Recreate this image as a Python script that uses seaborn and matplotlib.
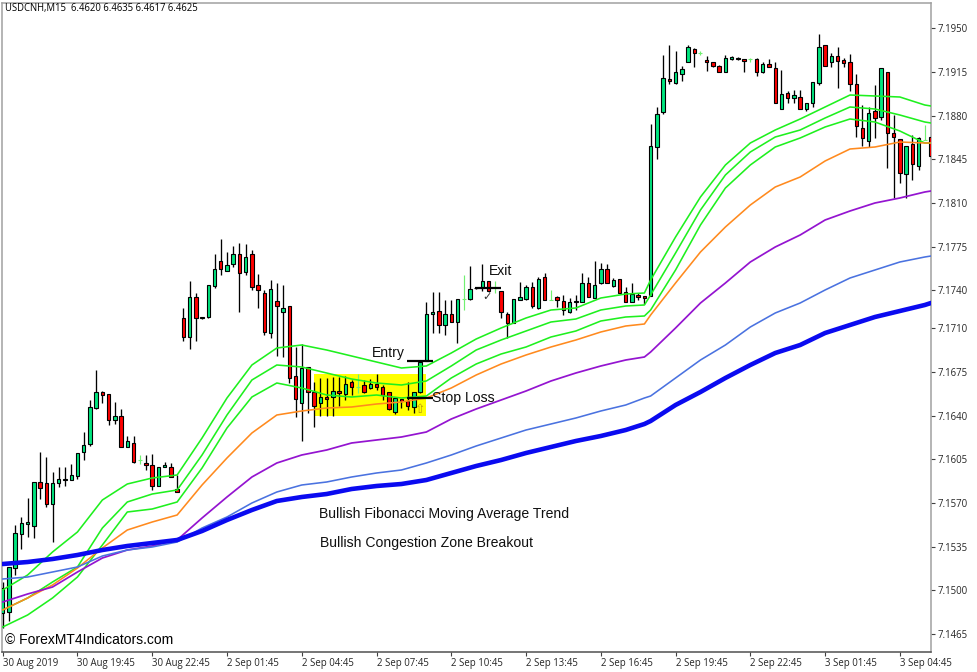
from matplotlib import pyplot as plt
from matplotlib.patches import Rectangle
import seaborn as sns
import numpy as np

sns.set_theme(style="white")
plt.rcParams['font.family'] = ['Liberation Sans', 'DejaVu Sans']

# === CANDLES (USDCNH M15), one value per bar ===
opens = [
    7.14820, 7.14828, 7.15180, 7.15452, 7.15532, 7.15516, 7.15868, 7.15860, 7.15692, 7.15860,
    7.15884, 7.15884, 7.15916, 7.16108, 7.16172, 7.16460, 7.16588, 7.16572, 7.16364, 7.16396,
    7.16148, 7.16180, 7.16044, 7.16020, 7.16004, 7.15836, 7.15988, 7.15988, 7.15812, 7.17180,
    7.17028, 7.17348, 7.17188, 7.17188, 7.17436, 7.17636, 7.17556, 7.17612, 7.17692, 7.17548,
    7.17692, 7.17444, 7.17380, 7.17060, 7.17316, 7.17228, 7.17276, 7.16716, 7.16500, 7.16788,
    7.16588, 7.16500, 7.16548, 7.16548, 7.16596, 7.16572, 7.16668, 7.16628, 7.16644, 7.16620,
    7.16652, 7.16628, 7.16588, 7.16428, 7.16532, 7.16516, 7.16468, 7.16588, 7.16836, 7.17212,
    7.17236, 7.17124, 7.17212, 7.17148, 7.17332, 7.17332, 7.17420, 7.17420, 7.17476, 7.17428,
    7.17396, 7.17212, 7.17140, 7.17324, 7.17332, 7.17428, 7.17260, 7.17508, 7.17324, 7.17348,
    7.17316, 7.17228, 7.17308, 7.17308, 7.17460, 7.17340, 7.17460, 7.17572, 7.17436, 7.17492,
    7.17388, 7.17308, 7.17364, 7.17356, 7.17356, 7.18548, 7.18828, 7.19092, 7.19060, 7.19132,
    7.19228, 7.19332, 7.19300, 7.19244, 7.19228, 7.19196, 7.19148, 7.19252, 7.19260, 7.19252,
    7.19252, 7.19252, 7.19148, 7.19212, 7.19180, 7.18852, 7.18980, 7.18940, 7.18948, 7.18852,
    7.18900, 7.19060, 7.19364, 7.19228, 7.19276, 7.19244, 7.19228, 7.19052, 7.18700, 7.18596,
    7.18836, 7.18788, 7.19148, 7.18660, 7.18612, 7.18332, 7.18572, 7.18396, 7.18604, 7.18628,
]
highs = [
    7.15068, 7.15188, 7.15524, 7.15588, 7.15740, 7.15868, 7.16108, 7.16068, 7.15948, 7.15988,
    7.15988, 7.16012, 7.16100, 7.16268, 7.16524, 7.16764, 7.16596, 7.16572, 7.16508, 7.16452,
    7.16236, 7.16236, 7.16084, 7.16084, 7.16092, 7.15988, 7.16028, 7.16020, 7.15924, 7.17260,
    7.17476, 7.17380, 7.17188, 7.17444, 7.17692, 7.17812, 7.17708, 7.17756, 7.17780, 7.17772,
    7.17724, 7.17532, 7.17404, 7.17484, 7.17460, 7.17444, 7.17276, 7.16948, 7.16972, 7.16788,
    7.16668, 7.16700, 7.16700, 7.16708, 7.16708, 7.16716, 7.16684, 7.16732, 7.16684, 7.16692,
    7.16732, 7.16644, 7.16588, 7.16540, 7.16532, 7.16668, 7.16588, 7.16828, 7.17308, 7.17388,
    7.17388, 7.17324, 7.17324, 7.17332, 7.17524, 7.17596, 7.17428, 7.17612, 7.17476, 7.17476,
    7.17396, 7.17228, 7.17332, 7.17468, 7.17444, 7.17468, 7.17508, 7.17540, 7.17404, 7.17356,
    7.17364, 7.17340, 7.17364, 7.17540, 7.17508, 7.17636, 7.17620, 7.17612, 7.17500, 7.17492,
    7.17428, 7.17460, 7.17380, 7.17356, 7.18732, 7.18868, 7.19284, 7.19364, 7.19316, 7.19196,
    7.19364, 7.19340, 7.19316, 7.19276, 7.19228, 7.19204, 7.19284, 7.19276, 7.19268, 7.19252,
    7.19260, 7.19260, 7.19228, 7.19252, 7.19228, 7.19164, 7.18996, 7.19004, 7.19004, 7.18900,
    7.19068, 7.19452, 7.19364, 7.19300, 7.19348, 7.19260, 7.19292, 7.19132, 7.18884, 7.18868,
    7.19044, 7.19180, 7.19148, 7.18804, 7.18612, 7.18556, 7.18644, 7.18628, 7.18724, 7.18636,
]
lows = [
    7.14700, 7.14756, 7.15124, 7.15332, 7.15428, 7.15420, 7.15732, 7.15668, 7.15388, 7.15828,
    7.15836, 7.15884, 7.15892, 7.16044, 7.16156, 7.16452, 7.16500, 7.16324, 7.16332, 7.16148,
    7.16148, 7.16020, 7.16012, 7.15964, 7.15804, 7.15836, 7.15988, 7.15908, 7.15788, 7.16996,
    7.16932, 7.16996, 7.17172, 7.17180, 7.17420, 7.17524, 7.17556, 7.17588, 7.17228, 7.17524,
    7.17404, 7.17260, 7.17044, 7.17020, 7.16876, 7.16868, 7.16660, 7.16388, 7.16196, 7.16420,
    7.16308, 7.16396, 7.16396, 7.16396, 7.16476, 7.16524, 7.16564, 7.16580, 7.16580, 7.16612,
    7.16604, 7.16524, 7.16444, 7.16412, 7.16460, 7.16444, 7.16420, 7.16580, 7.16836, 7.17060,
    7.17060, 7.17044, 7.17148, 7.16980, 7.17244, 7.17324, 7.17412, 7.17396, 7.17388, 7.17380,
    7.17180, 7.17020, 7.17140, 7.17324, 7.17324, 7.17260, 7.17252, 7.17324, 7.17324, 7.17268,
    7.17204, 7.17220, 7.17244, 7.17308, 7.17348, 7.17340, 7.17452, 7.17460, 7.17428, 7.17380,
    7.17308, 7.17308, 7.17324, 7.17292, 7.17356, 7.18452, 7.18812, 7.19052, 7.19052, 7.19076,
    7.19228, 7.19188, 7.19284, 7.19156, 7.19188, 7.19148, 7.19148, 7.19244, 7.19244, 7.19148,
    7.19228, 7.19116, 7.19140, 7.19188, 7.18900, 7.18852, 7.18900, 7.18900, 7.18852, 7.18836,
    7.18868, 7.19044, 7.19196, 7.19188, 7.19020, 7.19188, 7.18996, 7.18628, 7.18556, 7.18548,
    7.18620, 7.18764, 7.18380, 7.18140, 7.18260, 7.18140, 7.18284, 7.18364, 7.18604, 7.18460,
]
closes = [
    7.15020, 7.15188, 7.15460, 7.15540, 7.15548, 7.15868, 7.15820, 7.15692, 7.15860, 7.15892,
    7.15892, 7.15924, 7.16100, 7.16164, 7.16468, 7.16588, 7.16564, 7.16364, 7.16396, 7.16148,
    7.16196, 7.16028, 7.16044, 7.16004, 7.15836, 7.15988, 7.16004, 7.15908, 7.15788, 7.17028,
    7.17348, 7.17180, 7.17180, 7.17444, 7.17572, 7.17572, 7.17604, 7.17692, 7.17540, 7.17668,
    7.17428, 7.17404, 7.17068, 7.17412, 7.17276, 7.17260, 7.16700, 7.16532, 7.16780, 7.16588,
    7.16476, 7.16548, 7.16532, 7.16596, 7.16580, 7.16652, 7.16628, 7.16628, 7.16588, 7.16652,
    7.16628, 7.16564, 7.16452, 7.16540, 7.16516, 7.16476, 7.16588, 7.16828, 7.17212, 7.17228,
    7.17124, 7.17212, 7.17148, 7.17332, 7.17332, 7.17412, 7.17420, 7.17476, 7.17396, 7.17428,
    7.17228, 7.17140, 7.17332, 7.17348, 7.17428, 7.17276, 7.17492, 7.17324, 7.17324, 7.17324,
    7.17244, 7.17308, 7.17316, 7.17460, 7.17348, 7.17444, 7.17572, 7.17460, 7.17484, 7.17380,
    7.17308, 7.17372, 7.17348, 7.17340, 7.18556, 7.18812, 7.19100, 7.19076, 7.19148, 7.19172,
    7.19348, 7.19300, 7.19300, 7.19228, 7.19196, 7.19148, 7.19260, 7.19268, 7.19252, 7.19236,
    7.19252, 7.19148, 7.19212, 7.19188, 7.18900, 7.18972, 7.18940, 7.18964, 7.18852, 7.18900,
    7.19068, 7.19348, 7.19196, 7.19276, 7.19236, 7.19220, 7.19052, 7.18716, 7.18620, 7.18820,
    7.18780, 7.19180, 7.18660, 7.18628, 7.18340, 7.18556, 7.18412, 7.18620, 7.18604, 7.18476,
]
pale_bars = [22, 57, 74, 79, 88, 112, 120, 148]  # bars the chart shows only as a thin pale green mark

# === MOVING AVERAGES, read at these bars ===
ma_bars = list(range(0, 101, 4)) + [103, 104] + list(range(108, 149, 4)) + [149]
ma_green_fast = [
    7.15004, 7.15124, 7.15308, 7.15468, 7.15724, 7.15852, 7.15900, 7.15924, 7.16220, 7.16540,
    7.16804, 7.16940, 7.16964, 7.16924, 7.16876, 7.16828, 7.16780, 7.16796, 7.16900, 7.17012,
    7.17100, 7.17180, 7.17244, 7.17260, 7.17340, 7.17372, 7.17380, 7.17484, 7.17828, 7.18148,
    7.18404, 7.18580, 7.18684, 7.18772, 7.18868, 7.18964, 7.18956, 7.18948, 7.18884, 7.18876,
]
ma_green_mid = [
    7.14844, 7.14940, 7.15068, 7.15188, 7.15500, 7.15708, 7.15772, 7.15804, 7.16084, 7.16404,
    7.16684, 7.16804, 7.16788, 7.16740, 7.16692, 7.16660, 7.16644, 7.16676, 7.16796, 7.16924,
    7.17004, 7.17076, 7.17148, 7.17172, 7.17244, 7.17276, 7.17284, 7.17364, 7.17700, 7.18044,
    7.18324, 7.18508, 7.18628, 7.18684, 7.18780, 7.18868, 7.18852, 7.18804, 7.18748, 7.18740,
]
ma_green_slow = [
    7.14708, 7.14804, 7.14940, 7.15108, 7.15364, 7.15628, 7.15652, 7.15708, 7.15980, 7.16300,
    7.16548, 7.16660, 7.16620, 7.16564, 7.16548, 7.16564, 7.16540, 7.16556, 7.16700, 7.16812,
    7.16892, 7.16948, 7.17028, 7.17076, 7.17156, 7.17188, 7.17196, 7.17244, 7.17564, 7.17924,
    7.18220, 7.18404, 7.18548, 7.18620, 7.18708, 7.18772, 7.18748, 7.18676, 7.18580, 7.18580,
]
ma_orange = [
    7.14844, 7.14940, 7.15044, 7.15180, 7.15340, 7.15484, 7.15548, 7.15604, 7.15844, 7.16060,
    7.16260, 7.16404, 7.16436, 7.16460, 7.16468, 7.16492, 7.16508, 7.16540, 7.16620, 7.16724,
    7.16812, 7.16884, 7.16948, 7.17004, 7.17068, 7.17116, 7.17132, 7.17204, 7.17460, 7.17708,
    7.17908, 7.18084, 7.18228, 7.18308, 7.18436, 7.18532, 7.18548, 7.18588, 7.18580, 7.18580,
]
ma_purple = [
    7.14908, 7.14972, 7.15028, 7.15148, 7.15260, 7.15324, 7.15356, 7.15404, 7.15580, 7.15748,
    7.15908, 7.16020, 7.16084, 7.16124, 7.16180, 7.16204, 7.16228, 7.16268, 7.16372, 7.16452,
    7.16524, 7.16596, 7.16676, 7.16740, 7.16796, 7.16844, 7.16868, 7.16908, 7.17100, 7.17300,
    7.17460, 7.17628, 7.17748, 7.17844, 7.17964, 7.18036, 7.18100, 7.18140, 7.18188, 7.18196,
]
ma_blue = [
    7.15092, 7.15108, 7.15148, 7.15188, 7.15276, 7.15324, 7.15348, 7.15388, 7.15500, 7.15588,
    7.15700, 7.15788, 7.15844, 7.15868, 7.15908, 7.15940, 7.15964, 7.16020, 7.16084, 7.16156,
    7.16220, 7.16284, 7.16332, 7.16380, 7.16436, 7.16484, 7.16540, 7.16556, 7.16700, 7.16844,
    7.16964, 7.17108, 7.17220, 7.17300, 7.17404, 7.17500, 7.17564, 7.17628, 7.17668, 7.17676,
]
ma_thick = [
    7.15212, 7.15228, 7.15252, 7.15284, 7.15324, 7.15356, 7.15380, 7.15404, 7.15476, 7.15564,
    7.15644, 7.15716, 7.15748, 7.15772, 7.15812, 7.15836, 7.15852, 7.15884, 7.15940, 7.15996,
    7.16044, 7.16100, 7.16148, 7.16196, 7.16236, 7.16284, 7.16332, 7.16356, 7.16484, 7.16588,
    7.16700, 7.16804, 7.16900, 7.16964, 7.17060, 7.17124, 7.17188, 7.17236, 7.17284, 7.17300,
]

# === AXIS LABELS ===
time_ticks = list(range(0, 150, 12))
time_labels = ['30 Aug 2019', '30 Aug 19:45', '30 Aug 22:45', '2 Sep 01:45', '2 Sep 04:45', '2 Sep 07:45', '2 Sep 10:45',
               '2 Sep 13:45', '2 Sep 16:45', '2 Sep 19:45', '2 Sep 22:45', '3 Sep 01:45', '3 Sep 04:45']
price_ticks = [7.1950, 7.1915, 7.1880, 7.1845, 7.1810, 7.1775, 7.1740, 7.1710, 7.1675, 7.1640, 7.1605, 7.1570, 7.1535,
               7.1500, 7.1465]

# === FIGURE ===
fig = plt.figure(figsize=(9.77, 6.72), dpi=100)
ax = fig.add_axes([2 / 977, 1 - 652 / 672, 929 / 977, 649 / 672])
ax.set_xlim(-0.11, 149.0)
ax.set_ylim(7.14508, 7.19700)

# Congestion zone behind the candles
ax.add_patch(Rectangle((50, 7.16396), 17.9, 0.00336, color='#FFFF00', lw=0, zorder=1))

bars = np.arange(len(opens))
o, h, l, c = np.array(opens), np.array(highs), np.array(lows), np.array(closes)
solid = ~np.isin(bars, pale_bars)

ax.vlines(bars[solid], l[solid], h[solid], color='black', lw=0.95, zorder=2)
ax.vlines(bars[~solid], l[~solid], h[~solid], color='#70F070', lw=0.85, zorder=2)
ax.plot(bars[~solid], c[~solid], ls='', marker='_', ms=3.5, mew=0.8, color='#70F070', zorder=2)

up = solid & (c >= o)
down = solid & (c < o)
ax.bar(bars[up], (c - o)[up], bottom=o[up], width=0.55, color='#00E67F', edgecolor='black', lw=0.8, zorder=3)
ax.bar(bars[down], (c - o)[down], bottom=o[down], width=0.55, color='#FF0000', edgecolor='black', lw=0.8, zorder=3)

# Moving averages over the candles
for values, color, width in [(ma_green_fast, '#1EF01E', 1.15), (ma_green_mid, '#1EF01E', 1.15), (ma_green_slow, '#1EF01E', 1.15),
                             (ma_orange, '#FF8A1E', 1.15), (ma_purple, '#9414D0', 1.25), (ma_blue, '#4A72E0', 1.15),
                             (ma_thick, '#0A0AF0', 3.3)]:
    sns.lineplot(x=ma_bars, y=values, color=color, lw=width, ax=ax, zorder=4)

# Trade levels
ax.hlines([7.16836, 7.16540], 64.9, 69.1, color='black', lw=1.6, zorder=5)
ax.hlines(7.17420, 75.8, 80.0, color='black', lw=1.6, zorder=5)

label = dict(fontsize=10.1, color='#101010', va='center', ha='left', zorder=6)
ax.text(59.3, 7.16900, 'Entry', **label)
ax.text(78.1, 7.17556, 'Exit', **label)
ax.text(68.9, 7.16540, 'Stop Loss', **label)
ax.text(50.8, 7.15612, 'Bullish Fibonacci Moving Average Trend', **label)
ax.text(50.9, 7.15380, 'Bullish Congestion Zone Breakout', **label)
ax.text(0.4, 7.14604, '\u00a9 ForexMT4Indicators.com', fontsize=10.0, color='black', va='center', ha='left', zorder=6)
ax.text(0.4, 7.19652, 'USDCNH,M15  6.4620 6.4635 6.4617 6.4625', fontsize=6.85, color='black', va='center', ha='left',
        family='Open Sans', zorder=6)
ax.text(77.7, 7.17346, '\u2713', fontsize=8, color='#303030', va='center', ha='center', family='DejaVu Sans', zorder=6)
ax.text(67.0, 7.16444, '\u21e7', fontsize=9, color='#B89A10', va='center', ha='center', family='DejaVu Sans', zorder=6)

# Axes
ax.yaxis.tick_right()
ax.set_yticks(price_ticks, [f'{p:.4f}' for p in price_ticks], fontsize=6.9, family='Open Sans')
ax.set_xticks(time_ticks, time_labels, fontsize=6.9, family='Open Sans', ha='left')
ax.tick_params(axis='both', length=3, width=0.8, color='#404040', bottom=True, right=True, left=False, top=False)
ax.tick_params(axis='x', pad=1.5)
ax.tick_params(axis='y', pad=2)
ax.set_xlabel('')
ax.set_ylabel('')
ax.grid(False)
for side, color in [('left', '#A0A0A0'), ('right', '#A0A0A0'), ('top', '#A0A0A0'), ('bottom', '#505050')]:
    ax.spines[side].set_color(color)
    ax.spines[side].set_linewidth(1.1)

fig.savefig('out.png', dpi=100)
